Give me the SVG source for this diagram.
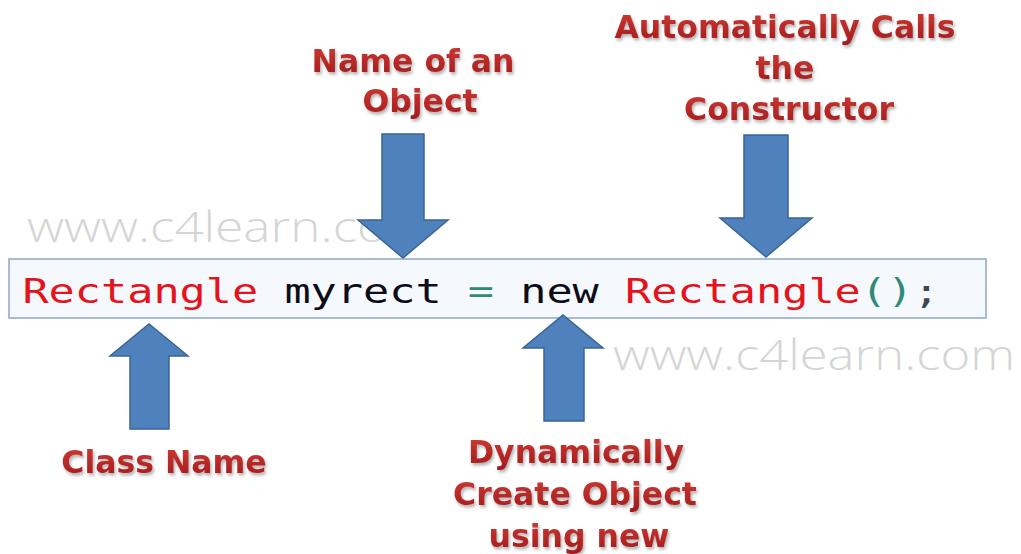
<svg xmlns="http://www.w3.org/2000/svg" width="1021" height="554" viewBox="0 0 1021 554">
  <defs>
    <linearGradient id="labelFill" x1="0" y1="0" x2="0" y2="1">
      <stop offset="0" stop-color="#cf3b35"/>
      <stop offset="1" stop-color="#a3191b"/>
    </linearGradient>
    <filter id="labelShadow" x="-10%" y="-30%" width="120%" height="170%">
      <feDropShadow dx="1.5" dy="2.5" stdDeviation="1.6" flood-color="#6f6f6f" flood-opacity="0.55"/>
    </filter>
  </defs>
  <style>
    .label { font-family: "DejaVu Sans", Verdana, sans-serif; font-weight: bold; font-size: 31.5px; fill: url(#labelFill); text-anchor: middle; filter: url(#labelShadow); }
    .mark { font-family: "Open Sans", "Liberation Sans", Arial, sans-serif; font-weight: 300; font-size: 42px; fill: #d5d5d5; }
    .code { font-family: "DejaVu Sans Mono", "Liberation Mono", monospace; font-size: 34px; }
    .kw { fill: #e3141c; }
    .id { fill: #0d0d18; }
    .op { fill: #2f8a7a; }
    .pn { fill: #3b4756; }
    .arrow { fill: #4f81bd; stroke: #3a6495; stroke-width: 1.5; stroke-linejoin: miter; }
  </style>

  <rect width="1021" height="554" fill="#ffffff"/>

  <!-- site watermarks -->
  <text class="mark" x="27" y="242" textLength="360" lengthAdjust="spacingAndGlyphs">www.c4learn.co</text>
  <text class="mark" x="613" y="370" textLength="402" lengthAdjust="spacingAndGlyphs">www.c4learn.com</text>

  <!-- code statement -->
  <g id="code-line">
    <rect x="9" y="259" width="977" height="59" fill="#f5f8fc" stroke="#8ea7c8" stroke-width="1.5"/>
    <g transform="translate(22.4,303) scale(1.28,1)">
      <text class="code" x="0" y="0" xml:space="preserve"><tspan class="kw">Rectangle</tspan><tspan class="id"> myrect </tspan><tspan class="op">=</tspan><tspan class="id"> new </tspan><tspan class="kw">Rectangle</tspan><tspan class="op">()</tspan><tspan class="pn">;</tspan></text>
    </g>
  </g>

  <!-- block arrows pointing at parts of the statement -->
  <g id="connectors">
    <polygon class="arrow" points="382,134 424,134 424,220 448,220 403,258 358,220 382,220"/>
    <polygon class="arrow" points="744,135 788,135 788,218 812,218 766,257 720,218 744,218"/>
    <polygon class="arrow" points="130,429 169,429 169,356 188,356 149,324 110,356 130,356"/>
    <polygon class="arrow" points="544,421 584,421 584,348 603,348 563,315 523,348 544,348"/>
  </g>

  <g id="object-name">
    <text class="label" x="413" y="72">Name of an</text>
    <text class="label" x="420" y="112">Object</text>
  </g>

  <g id="constructor-call">
    <text class="label" x="785" y="38">Automatically Calls</text>
    <text class="label" x="785" y="79">the</text>
    <text class="label" x="789" y="120">Constructor</text>
  </g>

  <g id="class-name">
    <text class="label" x="164" y="473">Class Name</text>
  </g>

  <g id="dynamic-create">
    <text class="label" x="576" y="463">Dynamically</text>
    <text class="label" x="575" y="505">Create Object</text>
    <text class="label" x="579" y="547">using new</text>
  </g>
</svg>
